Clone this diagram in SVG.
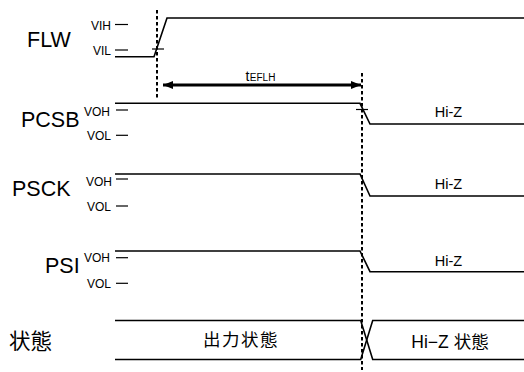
<svg xmlns="http://www.w3.org/2000/svg" width="524" height="372" viewBox="0 0 524 372">
<style>
.w{fill:none;stroke:#000;stroke-width:1.6}
.t{stroke:#000;stroke-width:1.2}
.d{fill:none;stroke:#000;stroke-width:2;stroke-dasharray:3.5 2.5}
.big{font-family:"Liberation Sans",Arial,sans-serif;font-size:21.5px;fill:#000}
.sm{font-family:"Liberation Sans",Arial,sans-serif;font-size:12px;fill:#000}
.hz{font-family:"Liberation Sans",Arial,sans-serif;font-size:14.5px;fill:#000;text-anchor:middle}
.cjk{font-family:"Liberation Sans","Noto Sans CJK JP",sans-serif;fill:#000}
</style>
<defs>
<marker id="ah" viewBox="0 0 10 8" refX="10" refY="4" markerWidth="10" markerHeight="8" markerUnits="userSpaceOnUse" orient="auto-start-reverse">
<path d="M0,0 L10,4 L0,8 Z" fill="#000"/>
</marker>
</defs>
<g id="flw">
<text class="big" x="27" y="47">FLW</text>
<text class="sm" x="91" y="30">VIH</text>
<text class="sm" x="93" y="55">VIL</text>
<line class="t" x1="115" y1="24.5" x2="128" y2="24.5"/>
<line class="t" x1="115" y1="50" x2="128" y2="50"/>
<polyline class="w" points="115,56.7 154,56.7 167,18 524,18"/>
<line class="t" x1="152" y1="49" x2="164" y2="49"/>
</g>
<g id="pcsb">
<text class="big" x="21" y="127">PCSB</text>
<text class="sm" x="84" y="115.5">VOH</text>
<text class="sm" x="87" y="140">VOL</text>
<line class="t" x1="116" y1="110" x2="128" y2="110"/>
<line class="t" x1="116" y1="135.3" x2="128" y2="135.3"/>
<polyline class="w" points="115,103.3 360,103.3 370,124 524,124"/>
<line class="t" x1="356" y1="109.5" x2="368" y2="109.5"/>
<text class="hz" x="448.5" y="116.5">Hi-Z</text>
</g>
<g id="psck">
<text class="big" x="12" y="196">PSCK</text>
<text class="sm" x="86" y="186">VOH</text>
<text class="sm" x="87" y="210.5">VOL</text>
<line class="t" x1="116" y1="179" x2="128" y2="179"/>
<line class="t" x1="116" y1="206" x2="128" y2="206"/>
<polyline class="w" points="115,174 360,174 370,196 524,196"/>
<text class="hz" x="448.5" y="189">Hi-Z</text>
</g>
<g id="psi">
<text class="big" x="45" y="272.5">PSI</text>
<text class="sm" x="84" y="261.5">VOH</text>
<text class="sm" x="87" y="288">VOL</text>
<line class="t" x1="116" y1="257.7" x2="128" y2="257.7"/>
<line class="t" x1="116" y1="283.3" x2="128" y2="283.3"/>
<polyline class="w" points="115,251 360,251 370,271.7 524,271.7"/>
<text class="hz" x="448.5" y="265.5">Hi-Z</text>
</g>
<g id="state">
<text class="cjk" x="9" y="348.5" font-size="21.5">状態</text>
<polyline class="w" points="115,320.5 360.7,320.5 372.7,359.5 524,359.5"/>
<polyline class="w" points="115,359.5 360.7,359.5 372.7,320.5 524,320.5"/>
<text class="cjk" x="241" y="346" font-size="17.5" text-anchor="middle" letter-spacing="1.5">出力状態</text>
<text class="cjk" x="450" y="347.5" font-size="17.5" text-anchor="middle">Hi−Z 状態</text>
</g>
<g id="connectors">
<line class="d" x1="157" y1="10" x2="157" y2="98"/>
<line class="d" x1="362" y1="73" x2="362" y2="370"/>
<line x1="163" y1="85" x2="361" y2="85" stroke="#000" stroke-width="3" marker-start="url(#ah)" marker-end="url(#ah)"/>
<text class="sm" x="245.5" y="80.5" style="font-size:14px">t</text>
<text class="sm" x="249.8" y="81" style="font-size:10px">EFLH</text>
</g>
</svg>
